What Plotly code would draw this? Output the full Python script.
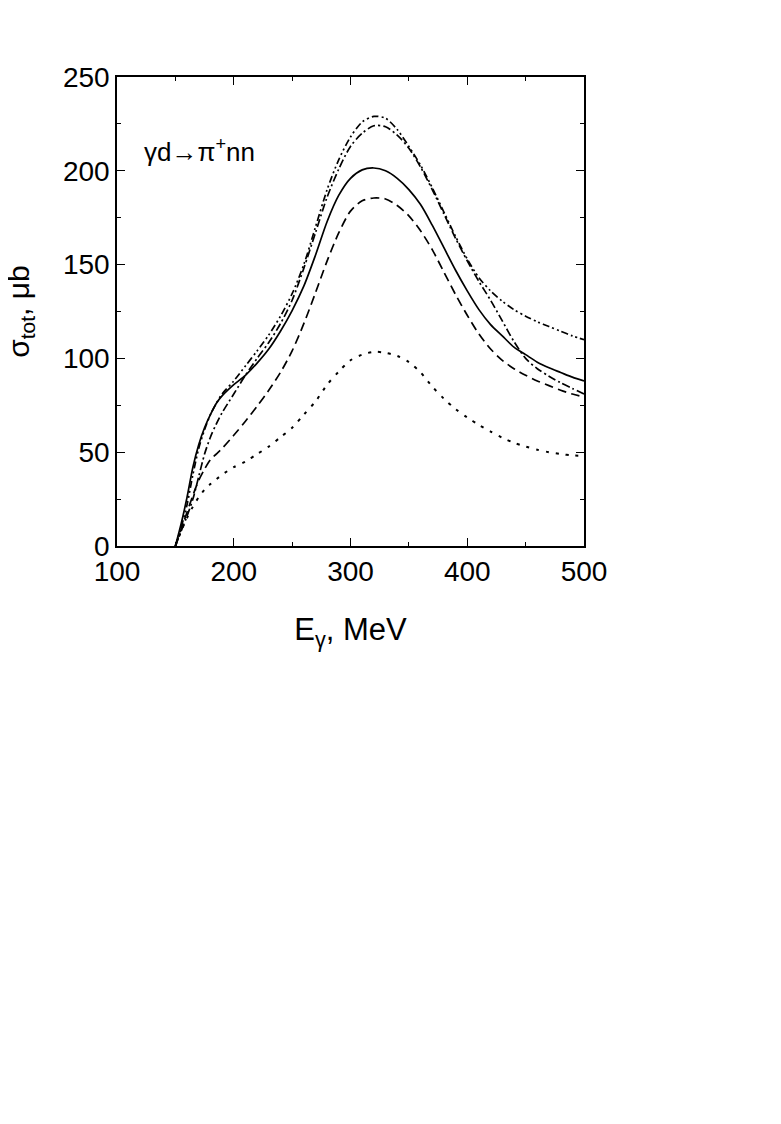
import plotly.graph_objects as go

E = [150, 155, 160, 165, 170, 175, 180, 185, 190, 200, 210, 220, 230, 240, 250,
     260, 270, 280, 290, 300, 310, 320, 330, 340, 350, 360, 370, 380, 390, 400,
     410, 420, 430, 440, 450, 460, 470, 480, 490, 500]

solid = [0, 12, 26, 42, 54, 63, 70, 76, 80, 86, 91, 97.5, 105, 114.5, 125.5,
         138.5, 155, 173, 187, 196, 200.5, 201.5, 200, 196, 190, 182, 171, 159, 147, 136,
         126, 118, 112, 106, 102, 98, 95, 92.5, 90, 88]

dashed = [0, 9, 18, 27, 35, 41, 46, 49, 52, 59, 66.5, 74.5, 83, 92.5, 104,
          118.5, 135, 152, 167, 178.5, 184, 185.5, 185, 181.5, 176, 168, 158, 146, 134, 123,
          113, 105, 99, 94.5, 91, 88, 85.5, 83, 81, 79.5]

dashdot = [0, 8, 16, 25, 37, 49, 58, 65, 71, 81, 91, 100, 108.5, 118.5, 131,
           148, 167, 186, 201, 213, 220, 224, 223.5, 219, 212, 202, 190, 177, 164, 152,
           141, 131, 120, 109, 100, 94.5, 90.5, 87, 84, 81]

dashdotdot = [0, 10, 22, 38, 52, 62, 70, 76, 81, 88, 96, 104, 112.5, 122.5, 134.5,
              150, 170, 190, 206, 218, 226, 229, 228, 222, 213, 203, 191, 178, 165, 153,
              143, 136, 130.5, 126, 122.5, 119.5, 117, 114.5, 112, 110]

dotted = [0, 8, 15, 21, 26, 30, 33, 35.5, 38, 42, 45, 49, 53, 58, 63,
          70, 77, 86, 93, 99, 102, 103.5, 103, 101.3, 98, 92.5, 85, 78.5, 73, 68.5,
          64.5, 61, 57.7, 55, 53, 51.3, 50, 49, 48.3, 48]

x_ticks = [100, 200, 300, 400, 500]
y_ticks = [0, 50, 100, 150, 200, 250]

FONT = "Liberation Sans, Arial, sans-serif"

series = [
    (solid, "solid", 1.7),
    (dashed, "9px,5px", 1.7),
    (dashdot, "8px,3px,2px,3px", 1.7),
    (dashdotdot, "7px,3px,2px,3px,2px,3px", 1.7),
    (dotted, "3px,7px", 2.0),
]

fig = go.Figure()
for ys, dash, w in series:
    fig.add_trace(go.Scatter(
        x=E, y=ys, mode="lines",
        line=dict(color="black", width=w, dash=dash, shape="spline", smoothing=0.8),
        showlegend=False, hoverinfo="skip"))

axis_common = dict(
    showline=True, linecolor="black", linewidth=1.5, mirror="ticks",
    ticks="inside", ticklen=8, tickwidth=1.3, tickcolor="black",
    showgrid=False, zeroline=False, automargin=False,
    tickfont=dict(family=FONT, size=28, color="black"),
)

fig.update_xaxes(
    range=[100, 500], tickvals=x_ticks, ticktext=[str(v) for v in x_ticks],
    minor=dict(ticks="inside", ticklen=4, tickwidth=1.2, tickcolor="black", dtick=50, tick0=100),
    title=dict(text="E<sub>γ</sub>, MeV", font=dict(family=FONT, size=31, color="black"), standoff=32),
    **axis_common)
fig.update_yaxes(
    range=[0, 250], tickvals=y_ticks, ticktext=[str(v) for v in y_ticks],
    minor=dict(ticks="inside", ticklen=4, tickwidth=1.2, tickcolor="black", dtick=25, tick0=0),
    **axis_common)

# y-axis title placed as rotated annotation (sits further left than plotly allows)
fig.add_annotation(
    x=-0.207, y=0.5, xref="paper", yref="paper", xanchor="center", yanchor="middle",
    text="σ<sub>tot</sub>, μb", textangle=-90, showarrow=False,
    font=dict(family=FONT, size=30, color="black"))

fig.add_annotation(
    x=121.4, y=211, xref="x", yref="y", xanchor="left", yanchor="middle",
    text="γd→π<sup>+</sup>nn", showarrow=False,
    font=dict(family=FONT, size=26, color="black"))

# page body has an 8px margin, so the figure is offset by 8px
fig.update_layout(
    width=765, height=1108,
    margin=dict(l=109, r=189, t=69, b=570, pad=0),
    paper_bgcolor="white", plot_bgcolor="white",
)

fig.write_html("out.html")
